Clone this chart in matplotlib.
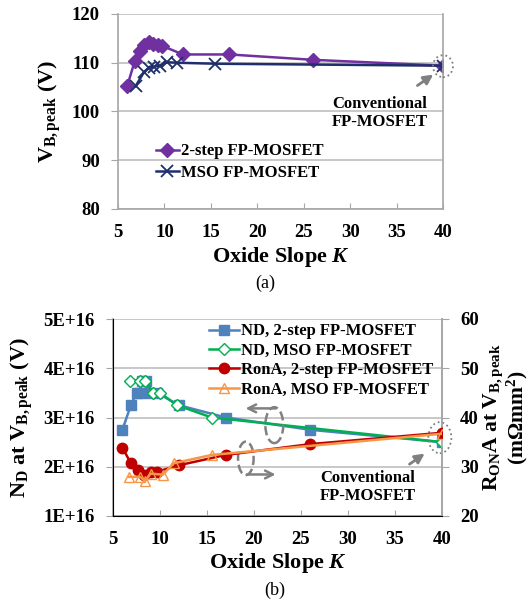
import matplotlib
matplotlib.use("Agg")
import matplotlib.pyplot as plt
from matplotlib.patches import Ellipse

plt.rcParams['font.family'] = ['Liberation Serif', 'DejaVu Serif']
plt.rcParams['font.weight'] = 'bold'
plt.rcParams['axes.labelweight'] = 'bold'
plt.rcParams['mathtext.fontset'] = 'custom'
plt.rcParams['mathtext.rm'] = 'Liberation Serif:bold'
plt.rcParams['mathtext.bf'] = 'Liberation Serif:bold'
plt.rcParams['mathtext.it'] = 'Liberation Serif:italic:bold'

# ---------------- data ----------------
# (a) breakdown voltage peak vs oxide slope K
k_2step_a = [6.0, 6.8, 7.4, 7.8, 8.3, 8.8, 9.3, 9.7, 12.0, 17.0, 26.0, 40.0]
vb_2step = [105.3, 110.3, 112.5, 113.7, 114.3, 113.9, 113.7, 113.5, 111.7, 111.7, 110.6, 109.4]
k_mso_a = [6.9, 7.8, 8.3, 8.9, 9.5, 10.3, 11.4, 15.5, 40.0]
vb_mso = [105.2, 108.1, 108.9, 109.2, 109.4, 110.1, 110.0, 109.8, 109.4]

# (b) doping (x1E16) and RonA vs K
k_2step_b = [6.0, 6.9, 7.5, 7.8, 8.1, 8.5, 8.8, 9.7, 12.0, 17.0, 26.0, 40.0]
nd_2step = [2.75, 3.25, 3.5, 3.5, 3.75, 3.75, 3.5, 3.5, 3.25, 3.0, 2.75, 2.5]
k_ron2 = [6.0, 6.9, 7.7, 8.25, 9.0, 9.7, 12.0, 17.0, 26.0, 40.0]
ron_2step = [33.9, 30.7, 29.4, 28.3, 29.0, 29.0, 30.3, 32.4, 34.6, 36.9]
k_mso_b = [6.8, 7.9, 8.4, 9.3, 10.0, 11.8, 15.5, 40.0]
nd_mso = [3.75, 3.75, 3.75, 3.5, 3.5, 3.25, 3.0, 2.5]
k_ronm = [6.7, 7.9, 8.4, 9.0, 10.3, 11.45, 15.5, 40.0]
ron_mso = [27.95, 27.95, 27.1, 28.6, 28.4, 30.7, 32.4, 36.7]

xticks = [5, 10, 15, 20, 25, 30, 35, 40]
xtick_labels = ['5', '10', '15', '20', '25', '30', '35', '40']
yticks_a = [80, 90, 100, 110, 120]
ytick_a_labels = ['80', '90', '100', '110', '120']
yticks_nd = [1, 2, 3, 4, 5]
ytick_nd_labels = ['1E+16', '2E+16', '3E+16', '4E+16', '5E+16']
yticks_ron = [20, 30, 40, 50, 60]
ytick_ron_labels = ['20', '30', '40', '50', '60']

# ---------------- style ----------------
spine_c = '#a6a6a6'
grid_c = '#bfbfbf'
c_purple = '#7030A0'
c_navy = '#1F2F6B'
c_blue = '#4F81BD'
c_green = '#00B050'
c_red = '#C00000'
c_orange = '#F79646'
arrow_c = '#808080'
TICK_FS = 13.5

fig = plt.figure(figsize=(5.31, 6.03), dpi=100)
W, H = 531, 603

def style_axes(ax):
    for s in ['left', 'bottom', 'right']:
        ax.spines[s].set_color(spine_c)
        ax.spines[s].set_linewidth(1.2)
    ax.spines['top'].set_visible(False)
    ax.tick_params(axis='both', colors='black')
    ax.tick_params(axis='y', direction='out', length=5, color=spine_c, pad=8)
    ax.tick_params(axis='x', direction='in', length=4, color=spine_c, pad=11)
    ax.yaxis.grid(True, color=grid_c, linewidth=1.2)
    ax.set_axisbelow(True)

# ---------------- (a) ----------------
ax1 = fig.add_axes([118 / W, 1 - 209 / H, (443 - 118) / W, (209 - 14) / H])
style_axes(ax1)
ax1.plot(k_2step_a, vb_2step, color=c_purple, lw=1.8, marker='D', ms=7,
         label='2-step FP-MOSFET')
ax1.plot(k_mso_a, vb_mso, color=c_navy, lw=1.8, marker='x', ms=8, mew=1.3,
         label='MSO FP-MOSFET')
ax1.set_xlim(5, 40)
ax1.set_ylim(80, 120)
ax1.set_xticks(xticks, xtick_labels, fontweight='bold', fontsize=TICK_FS)
ax1.set_yticks(yticks_a, ytick_a_labels, fontweight='bold', fontsize=TICK_FS)
ax1.set_xlabel('Oxide Slope $\\mathit{K}$', fontsize=16, labelpad=3)
ax1.set_ylabel('V$_{\\mathrm{B,peak}}$ (V)', fontsize=16, labelpad=6)
leg1 = ax1.legend(loc='lower left', bbox_to_anchor=(0.09, 0.1), frameon=False,
                  fontsize=12, handlelength=1.4, handletextpad=0.15,
                  labelspacing=0.35, borderpad=0)
ax1.add_patch(Ellipse((40.0, 109.3), 2.15, 4.5, fill=False, ls=':',
                      ec='#7f7f7f', lw=1.3, clip_on=False, zorder=5))
ax1.annotate('', xy=(39.2, 107.9), xytext=(37.0, 105.0),
             arrowprops=dict(arrowstyle='-|>', color=arrow_c, lw=2,
                             mutation_scale=14))
ax1.text(33.2, 99.7, 'Conventional\nFP-MOSFET', ha='center', va='center',
         fontsize=12, linespacing=1.2)
fig.text(265 / W, 1 - 283 / H, '(a)', ha='center', va='center',
         fontsize=13, fontweight='normal')

# ---------------- (b) ----------------
ax2 = fig.add_axes([113 / W, 1 - 516 / H, (442 - 113) / W, (516 - 319) / H])
style_axes(ax2)
ax3 = ax2.twinx()
ax3.spines['top'].set_visible(False)
ax3.spines['right'].set_color(spine_c)
ax3.spines['right'].set_linewidth(1.2)
ax3.tick_params(axis='y', direction='out', length=5, color=spine_c, pad=8)

l1, = ax2.plot(k_2step_b, nd_2step, color=c_blue, lw=1.8, marker='s', ms=7.5,
               label='ND, 2-step FP-MOSFET', zorder=3)
l2, = ax2.plot(k_mso_b, nd_mso, color=c_green, lw=1.8, marker='D', ms=6.5,
               mfc='white', mec=c_green, mew=1.0,
               label='ND, MSO FP-MOSFET', zorder=4)
l3, = ax3.plot(k_ron2, ron_2step, color=c_red, lw=1.8, marker='o', ms=7.5,
               label='RonA, 2-step FP-MOSFET', zorder=3)
l4, = ax3.plot(k_ronm, ron_mso, color=c_orange, lw=1.8, marker='^', ms=7.5,
               mfc='none', mec=c_orange, mew=1.0,
               label='RonA, MSO FP-MOSFET', zorder=4)
ax2.set_xlim(5, 40)
ax2.set_ylim(1, 5)
ax2.set_xticks(xticks, xtick_labels, fontweight='bold', fontsize=TICK_FS)
ax2.set_yticks(yticks_nd, ytick_nd_labels, fontweight='bold', fontsize=TICK_FS)
ax3.set_ylim(20, 60)
ax3.set_yticks(yticks_ron, ytick_ron_labels, fontweight='bold', fontsize=TICK_FS)
ax2.set_xlabel('Oxide Slope $\\mathit{K}$', fontsize=16, labelpad=2)
ax2.set_ylabel('N$_{\\mathrm{D}}$ at V$_{\\mathrm{B,peak}}$ (V)', fontsize=16,
               labelpad=6)
ax3.set_ylabel('R$_{\\mathrm{ON}}$A at V$_{\\mathrm{B,peak}}$\n(m\u03a9mm$^{2}$)',
               fontsize=15.5, labelpad=2, linespacing=1.0)
ax3.legend([l1, l2, l3, l4], [l.get_label() for l in [l1, l2, l3, l4]],
           loc='upper right', bbox_to_anchor=(1.0, 1.02), frameon=False,
           fontsize=12, handlelength=1.8, handletextpad=0.15,
           labelspacing=0.2, borderpad=0)

# annotations in (b)
ax2.add_patch(Ellipse((39.77, 2.59), 2.45, 0.63, fill=False, ls=':',
                      ec='#7f7f7f', lw=1.3, clip_on=False, zorder=6))
ax2.annotate('', xy=(38.4, 2.3), xytext=(36.3, 2.02),
             arrowprops=dict(arrowstyle='-|>', color=arrow_c, lw=2,
                             mutation_scale=14))
ax2.text(32.1, 1.59, 'Conventional\nFP-MOSFET', ha='center', va='center',
         fontsize=12, linespacing=1.2)
ax2.add_patch(Ellipse((22.16, 2.845), 1.9, 0.73, fill=False, ls='--',
                      ec=arrow_c, lw=1.8, zorder=6))
ax2.annotate('', xy=(19.1, 3.185), xytext=(22.3, 3.185),
             arrowprops=dict(arrowstyle='->', color=arrow_c, lw=1.8,
                             mutation_scale=14, shrinkA=0, shrinkB=0))
ax2.add_patch(Ellipse((19.13, 2.17), 1.66, 0.68, fill=False, ls='--',
                      ec=arrow_c, lw=1.8, zorder=6))
ax2.annotate('', xy=(22.3, 1.843), xytext=(19.26, 1.843),
             arrowprops=dict(arrowstyle='->', color=arrow_c, lw=1.8,
                             mutation_scale=14, shrinkA=0, shrinkB=0))
fig.text(275 / W, 1 - 590 / H, '(b)', ha='center', va='center',
         fontsize=13, fontweight='normal')

fig.savefig('out.png', dpi=100)
